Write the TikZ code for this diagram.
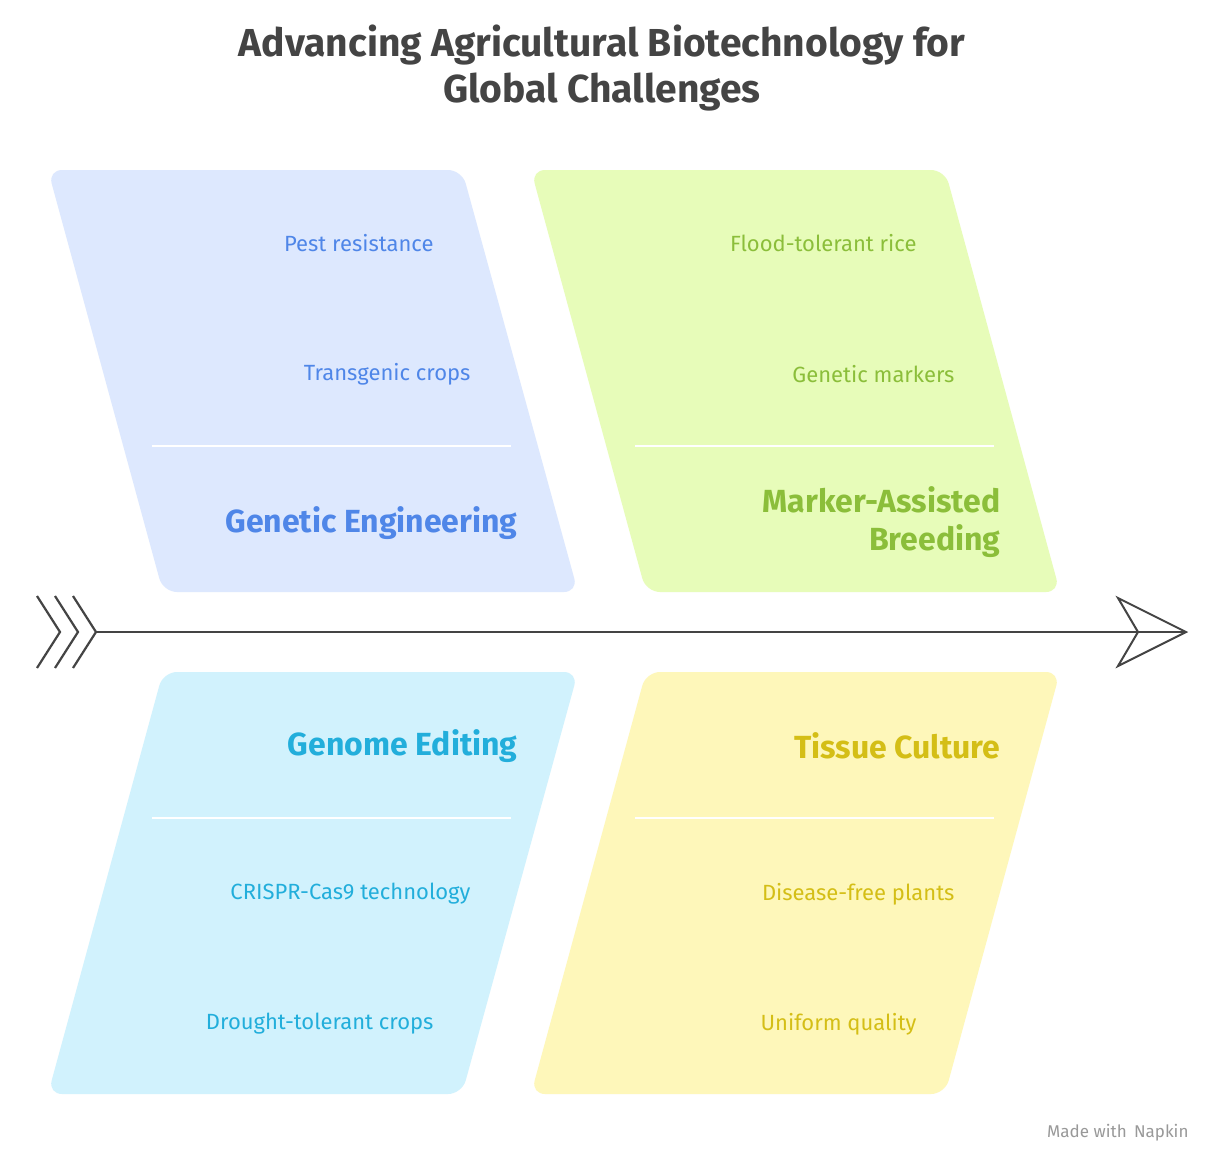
\documentclass[tikz,border=0pt]{standalone}
\usepackage{fontspec}
\setmainfont{Fira Sans}
\definecolor{bfill}{HTML}{DDE8FE}\definecolor{btxt}{HTML}{4F86E8}
\definecolor{gfill}{HTML}{E7FCB9}\definecolor{gtxt}{HTML}{8BBE3A}
\definecolor{cfill}{HTML}{D1F2FD}\definecolor{ctxt}{HTML}{22AEDB}
\definecolor{yfill}{HTML}{FEF7BA}\definecolor{ytxt}{HTML}{D4BE16}
\definecolor{ink}{HTML}{444444}
\begin{document}
\begin{tikzpicture}[x=1pt,y=-1pt,
  panel/.style={rounded corners=14pt},
  item/.style={anchor=east,font=\fontsize{22}{26}\selectfont},
  head/.style={anchor=east,align=right,font=\fontsize{32}{38}\selectfont\bfseries},
  divider/.style={white,line width=2pt}]
\useasboundingbox[fill=white] (0,0) rectangle (1224,1172);
\node[font=\fontsize{39}{46}\selectfont\bfseries,text=ink,align=center] (title) at (602,68) {Advancing Agricultural Biotechnology for\\Global Challenges};
% panels
\fill[bfill,panel] (48,170) -- (462,170) -- (578,592) -- (163,592) -- cycle;
\fill[gfill,panel] (531,170) -- (945,170) -- (1060,592) -- (646,592) -- cycle;
\fill[cfill,panel] (163,672) -- (578,672) -- (462,1094) -- (48,1094) -- cycle;
\fill[yfill,panel] (646,672) -- (1060,672) -- (945,1094) -- (531,1094) -- cycle;
\draw[divider] (152,446) -- (511,446);
\draw[divider] (635,446) -- (994,446);
\draw[divider] (152,818) -- (511,818);
\draw[divider] (635,818) -- (994,818);
% texts
\node[item,text=btxt] (a1) at (437,243) {Pest resistance};
\node[item,text=btxt] (a2) at (474,374) {Transgenic crops};
\node[head,text=btxt] (a3) at (521,523) {Genetic Engineering};
\node[item,text=gtxt] (b1) at (920,243) {Flood-tolerant rice};
\node[item,text=gtxt] (b2) at (958,374) {Genetic markers};
\node[head,text=gtxt] (b3) at (1004,522) {Marker-Assisted\\Breeding};
\node[head,text=ctxt] (c3) at (521,746) {Genome Editing};
\node[item,text=ctxt] (c1) at (474,894) {CRISPR-Cas9 technology};
\node[item,text=ctxt] (c2) at (437,1024) {Drought-tolerant crops};
\node[head,text=ytxt] (d3) at (1004,746) {Tissue Culture};
\node[item,text=ytxt] (d1) at (958,894) {Disease-free plants};
\node[item,text=ytxt] (d2) at (920,1024) {Uniform quality};
% spine
\coordinate (s0) at (97,632); \coordinate (s1) at (1185,632);
\draw[ink,line width=2pt] (s0) -- (s1);
\draw[ink,line width=2pt,line join=miter] (1118,598) -- (1186,632) -- (1118,666) -- (1138,632) -- cycle;
\foreach \dx in {0,18,36}{
  \draw[ink,line width=2.2pt] (37+\dx,596) -- (60+\dx,632) -- (37+\dx,668);}
\node[anchor=east,text=gray!80,font=\fontsize{17}{20}\selectfont] (foot) at (1192,1133) {Made with \,Napkin};
\end{tikzpicture}
\end{document}
